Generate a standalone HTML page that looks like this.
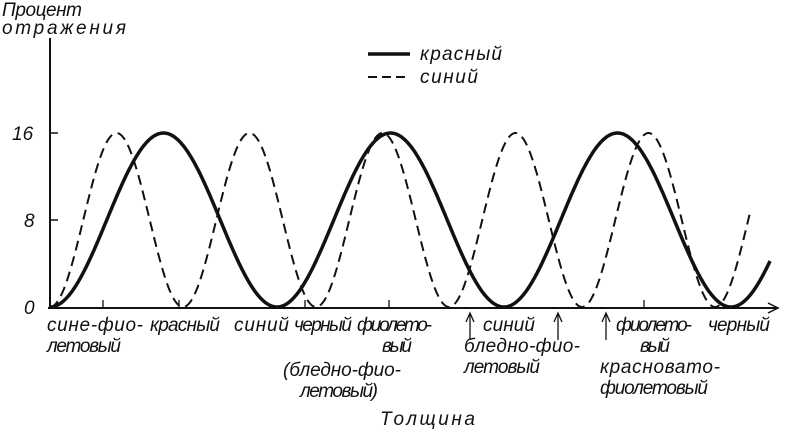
<!DOCTYPE html>
<html><head><meta charset="utf-8"><style>
html,body{margin:0;padding:0;background:#fff;}
svg{display:block}
text{font-family:"Liberation Sans","DejaVu Sans",sans-serif;font-style:italic;fill:#111;font-size:19px;}
</style></head><body>
<svg id="s" width="790" height="435" viewBox="0 0 790 435" xmlns="http://www.w3.org/2000/svg">
<g stroke="#111" fill="none">
<line x1="50" y1="38" x2="50" y2="308" stroke-width="2"/>
<line x1="48" y1="308" x2="778" y2="308" stroke-width="2"/>
<path d="M768 303 L778 308 L768 313" stroke-width="1.5"/>
<line x1="50" y1="133" x2="58" y2="133" stroke-width="1.5"/>
<line x1="50" y1="220" x2="58" y2="220" stroke-width="1.5"/>
<g stroke-width="1.3">
<line x1="103" y1="300" x2="103" y2="308"/><line x1="179" y1="300" x2="179" y2="308"/>
<line x1="305" y1="300" x2="305" y2="308"/><line x1="389" y1="300" x2="389" y2="308"/>
<line x1="644" y1="300" x2="644" y2="308"/>
<line x1="470" y1="314" x2="470" y2="340"/><path d="M466 322 L470 313 L474 322"/>
<line x1="558" y1="314" x2="558" y2="340"/><path d="M554 322 L558 313 L562 322"/>
<line x1="606" y1="314" x2="606" y2="340"/><path d="M602 322 L606 313 L610 322"/>
</g>
<line x1="368" y1="54" x2="410" y2="54" stroke-width="3.5"/>
<line x1="368" y1="77" x2="410" y2="77" stroke-width="2" stroke-dasharray="9,5"/>
<path id="red" stroke-width="3.5"/>
<path id="blue" stroke-width="2" stroke-dasharray="10,6"/>
</g>
<text x="2" y="16" font-size="18" textLength="80">Процент</text>
<text x="2" y="34" font-size="18" textLength="124">отражения</text>
<text x="420" y="60" font-size="19" textLength="82">красный</text>
<text x="420" y="83" font-size="19" textLength="58">синий</text>
<text x="12" y="140" font-size="20" font-style="normal">16</text>
<text x="24" y="227" font-size="20" font-style="normal">8</text>
<text x="24" y="314" font-size="20" font-style="normal">0</text>
<text x="47" y="331" textLength="96">сине-фио-</text>
<text x="47" y="352" textLength="74">летовый</text>
<text x="150" y="331" textLength="70">красный</text>
<text x="234" y="331" textLength="55">синий</text>
<text x="294" y="331" textLength="58">черный</text>
<text x="357" y="331" textLength="75">фиолето-</text>
<text x="382" y="352" textLength="30">вый</text>
<text x="283" y="376" textLength="118">(бледно-фио-</text>
<text x="300" y="397" textLength="78">летовый)</text>
<text x="483" y="331" textLength="52">синий</text>
<text x="464" y="352" textLength="116">бледно-фио-</text>
<text x="464" y="373" textLength="76">летовый</text>
<text x="616" y="331" textLength="76">фиолето-</text>
<text x="640" y="352" textLength="30">вый</text>
<text x="600" y="373" textLength="120">красновато-</text>
<text x="600" y="394" textLength="108">фиолетовый</text>
<text x="708" y="331" textLength="62">черный</text>
<text x="380" y="425" font-size="22" textLength="95">Толщина</text>
</svg>
<script>
function mk(f,x0,x1){var d="";for(var x=x0;x<=x1;x+=1){d+=(x==x0?"M":"L")+x+" "+f(x).toFixed(1)+" ";}return d;}
var Y0=307,A=174;
document.getElementById("red").setAttribute("d",mk(function(x){return Y0-A*(1-Math.cos(2*Math.PI*(x-50)/227))/2;},50,770));
document.getElementById("blue").setAttribute("d",mk(function(x){return Y0-A*(1-Math.cos(2*Math.PI*(x-50)/133))/2;},50,750));
</script>
</body></html>
